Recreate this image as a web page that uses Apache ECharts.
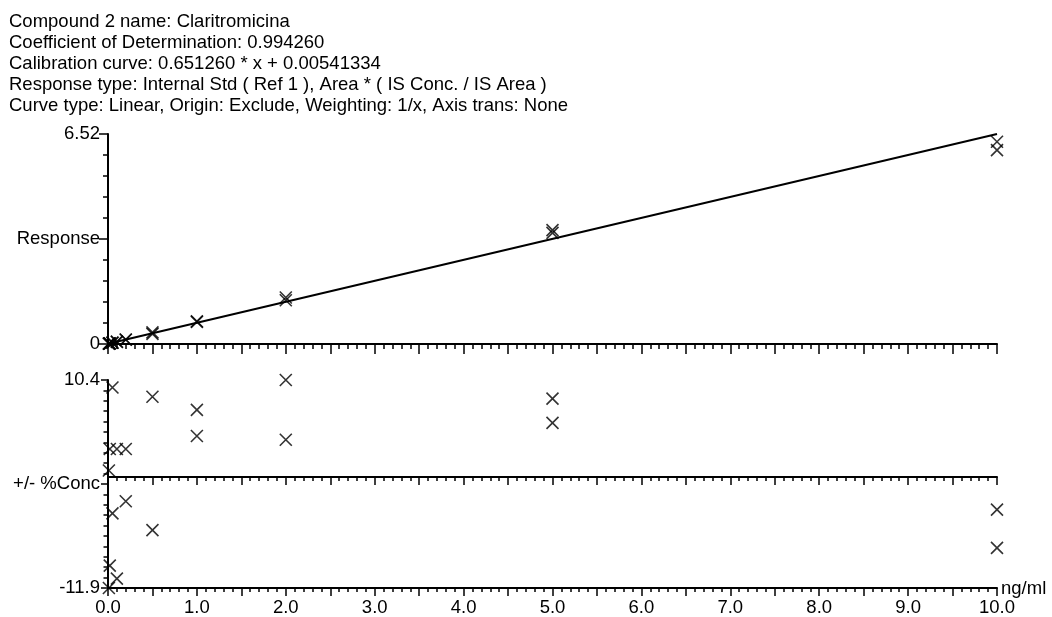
<!DOCTYPE html>
<html>
<head>
<meta charset="utf-8">
<script src="https://cdn.jsdelivr.net/npm/echarts@6/dist/echarts.min.js"></script>
<style>
  html, body { margin: 0; padding: 0; background: #fff; }
  #chart { width: 1052px; height: 617px; }
</style>
</head>
<body>
<div id="chart"></div>
<script>
// Report header
const headerLines = [
  'Compound 2 name: Claritromicina',
  'Coefficient of Determination: 0.994260',
  'Calibration curve: 0.651260 * x + 0.00541334',
  'Response type: Internal Std ( Ref 1 ), Area * ( IS Conc. / IS Area )',
  'Curve type: Linear, Origin: Exclude, Weighting: 1/x, Axis trans: None'
];

// Calibration fit (from the header)
const slope = 0.651260;
const intercept = 0.00541334;

// Standards: nominal concentration (ng/ml), response, residual (%)
const concentrations = [0.01, 0.01, 0.02, 0.02, 0.05, 0.05, 0.1, 0.1, 0.2, 0.2,
                        0.5, 0.5, 1.0, 1.0, 2.0, 2.0, 5.0, 5.0, 10.0, 10.0];
const responses      = [0.012, 0.011, 0.018, 0.017, 0.041, 0.037, 0.073, 0.063, 0.140, 0.132,
                        0.359, 0.313, 0.703, 0.685, 1.443, 1.360, 3.535, 3.451, 6.280, 6.020];
const residuals      = [0.7, -11.9, 3.0, -9.5, 9.6, -3.9, 3.0, -10.9, 3.0, -2.6,
                        8.6, -5.7, 7.2, 4.4, 10.4, 4.0, 8.4, 5.8, -3.5, -7.6];

// Axis ranges and tick labels
const xMax = 10;
const xUnit = 'ng/ml';
const responseTickValues = [0, 3.26, 6.52];
const responseTickLabels = ['0', 'Response', '6.52'];
const residualTickLabels = ['-11.9', '+/- %Conc', '10.4'];
const residualMin = -11.9;
const residualMax = 10.4;

const FONT = '"Liberation Sans", Arial, Helvetica, sans-serif';
const FS = 18.5;
const black = '#000';

const crossSymbol = 'path://M0,0L10,10M10,0L0,10';

function pairs(xs, ys) {
  return xs.map((x, i) => [x, ys[i]]);
}

function xAxisBase(gridIndex, tickLen, minorLen) {
  return {
    type: 'value',
    gridIndex: gridIndex,
    min: 0,
    max: xMax,
    interval: 0.5,
    axisLine: { show: true, onZero: false, lineStyle: { color: black, width: 2 } },
    axisTick: { show: true, length: tickLen, lineStyle: { color: black, width: 1.5 } },
    minorTick: { show: true, splitNumber: 5, length: minorLen, lineStyle: { color: black, width: 1.5 } },
    axisLabel: { show: false },
    splitLine: { show: false },
    minorSplitLine: { show: false }
  };
}

const chart = echarts.init(document.getElementById('chart'), null, { renderer: 'canvas' });

const xTop = xAxisBase(0, 10, 5);

const xBottom = xAxisBase(1, 8, 4);
xBottom.axisLabel = {
  show: true,
  margin: 10,
  color: black,
  fontFamily: FONT,
  fontSize: FS,
  formatter: function (v) {
    const k = Math.round(v * 2);
    return k % 2 === 0 ? (k / 2).toFixed(1) : '';
  }
};
xBottom.name = xUnit;
xBottom.nameLocation = 'end';
xBottom.nameGap = 4;
xBottom.nameTextStyle = { color: black, fontFamily: FONT, fontSize: FS, verticalAlign: 'bottom', padding: [0, 0, -10, 0] };

// zero line of the residual panel
const xZero = xAxisBase(1, 8, 4);
xZero.position = 'top';
xZero.axisLine.onZero = true;
xZero.axisLine.onZeroAxisIndex = 2;
xZero.axisTick.inside = true;

const option = {
  animation: false,
  backgroundColor: '#fff',
  title: {
    text: headerLines.join('\n'),
    left: 9,
    top: 11,
    padding: 0,
    textStyle: {
      color: black,
      fontFamily: FONT,
      fontSize: FS,
      fontWeight: 'normal',
      lineHeight: 21
    }
  },
  grid: [
    { left: 108, right: 55, top: 134, height: 210, containLabel: false },
    { left: 108, right: 55, top: 380, height: 208, containLabel: false }
  ],
  xAxis: [xTop, xBottom, xZero],
  yAxis: [
    {
      type: 'value',
      gridIndex: 0,
      min: responseTickValues[0],
      max: responseTickValues[responseTickValues.length - 1],
      interval: responseTickValues[1] - responseTickValues[0],
      axisLine: { show: true, onZero: false, lineStyle: { color: black, width: 2 } },
      axisTick: { show: true, length: 9, lineStyle: { color: black, width: 1.5 } },
      minorTick: { show: true, splitNumber: 5, length: 5, lineStyle: { color: black, width: 1.5 } },
      splitLine: { show: false },
      axisLabel: {
        show: true, margin: 8, color: black, fontFamily: FONT, fontSize: FS,
        formatter: function (v) {
          const i = Math.round(v / (responseTickValues[1] - responseTickValues[0]));
          return responseTickLabels[i] || '';
        }
      }
    },
    {
      // ruler for the residual panel: 20 divisions between the two limits
      type: 'value',
      gridIndex: 1,
      min: 0,
      max: 20,
      interval: 10,
      axisLine: { show: true, onZero: false, lineStyle: { color: black, width: 2 } },
      axisTick: { show: true, length: 7, lineStyle: { color: black, width: 1.5 } },
      minorTick: { show: true, splitNumber: 10, length: 4.5, lineStyle: { color: black, width: 1.5 } },
      splitLine: { show: false },
      axisLabel: {
        show: true, margin: 8, color: black, fontFamily: FONT, fontSize: FS,
        formatter: function (v) {
          return residualTickLabels[Math.round(v / 10)] || '';
        }
      }
    },
    {
      type: 'value',
      gridIndex: 1,
      min: residualMin,
      max: residualMax,
      show: false,
      splitLine: { show: false }
    }
  ],
  series: [
    {
      type: 'line',
      xAxisIndex: 0,
      yAxisIndex: 0,
      data: [[0, intercept], [xMax, slope * xMax + intercept]],
      showSymbol: false,
      silent: true,
      lineStyle: { color: black, width: 2 },
      z: 2
    },
    {
      type: 'scatter',
      xAxisIndex: 0,
      yAxisIndex: 0,
      data: pairs(concentrations, responses),
      symbol: crossSymbol,
      symbolSize: 12,
      silent: true,
      itemStyle: { color: 'none', borderColor: black, borderWidth: 1.6 },
      z: 3
    },
    {
      type: 'scatter',
      xAxisIndex: 1,
      yAxisIndex: 2,
      data: pairs(concentrations, residuals),
      symbol: crossSymbol,
      symbolSize: 12,
      silent: true,
      itemStyle: { color: 'none', borderColor: black, borderWidth: 1.6 },
      z: 3
    }
  ]
};

chart.setOption(option);
</script>
</body>
</html>
